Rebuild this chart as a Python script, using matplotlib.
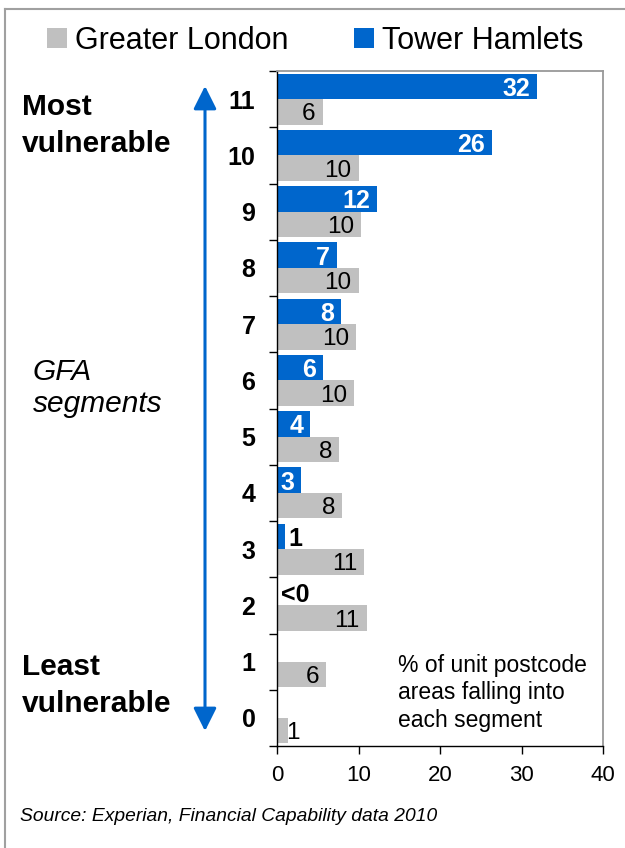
import numpy as np
import matplotlib.pyplot as plt
from matplotlib.patches import FancyArrowPatch
from matplotlib.lines import Line2D

plt.rcParams['font.family'] = ['Liberation Sans', 'DejaVu Sans']

# =====================================================
# DATA (% of unit postcode areas per GFA segment)
# =====================================================

segments = list(range(12))
tower_hamlets = [0, 0, 0.15, 1.0, 3.0, 4.1, 5.6, 7.9, 7.4, 12.3, 26.4, 31.9]
greater_london = [1.3, 6.05, 11.0, 10.7, 8.0, 7.6, 9.5, 9.7, 10.0, 10.3, 10.0, 5.6]
th_labels = ["", "", "<0", "1", "3", "4", "6", "8", "7", "12", "26", "32"]
gl_labels = ["1", "6", "11", "11", "8", "8", "10", "10", "10", "10", "10", "6"]
x_ticks = [0, 10, 20, 30, 40]
note_lines = ["% of unit postcode", "areas falling into", "each segment"]

BLUE = "#0066CC"
GREY = "#C0C0C0"

W, H = 625, 848
fig = plt.figure(figsize=(W / 100, H / 100), dpi=100)


def fx(px):
    return px / W


def fy(py):
    return 1 - py / H


# =====================================================
# BARS
# =====================================================

ax = fig.add_axes([fx(277), fy(746), fx(603) - fx(277), fy(71) - fy(746)])

y = np.arange(len(segments))
bh = 0.454

th_bars = ax.barh(y + bh / 2, tower_hamlets, height=bh, color=BLUE,
                  label="Tower Hamlets")
gl_bars = ax.barh(y - bh / 2, greater_london, height=bh, color=GREY,
                  label="Greater London")

for yi, v, lab in zip(y, greater_london, gl_labels):
    if v < 3:
        ax.annotate(lab, (0, yi - bh / 2), xytext=(6.5, 0),
                    textcoords="offset points", ha="left",
                    va="center_baseline", fontsize=17.5)
    else:
        ax.annotate(lab, (v, yi - bh / 2), xytext=(-5, 0),
                    textcoords="offset points", ha="right",
                    va="center_baseline", fontsize=17.5)

for yi, v, lab in zip(y, tower_hamlets, th_labels):
    if lab == "":
        continue
    if v < 2:
        ax.annotate(lab, (v, yi + bh / 2), xytext=(2, 0),
                    textcoords="offset points", ha="left",
                    va="center_baseline", fontsize=18, fontweight="bold",
                    color="black")
    else:
        ax.annotate(lab, (v, yi + bh / 2), xytext=(-5, 0),
                    textcoords="offset points", ha="right",
                    va="center_baseline", fontsize=18, fontweight="bold",
                    color="white")

# =====================================================
# AXES
# =====================================================

ax.set_xlim(0, 40)
ax.set_ylim(-0.5, 11.5)
ax.set_xticks(x_ticks)
ax.set_yticks(y)
ax.set_yticklabels(segments, fontweight="bold", fontsize=18)
ax.set_yticks(np.arange(-0.5, 12, 1), minor=True)

ax.tick_params(axis="y", which="major", length=0, pad=15.5)
ax.tick_params(axis="y", which="minor", length=6, width=1, color="black")
ax.tick_params(axis="x", length=6, width=1, pad=8, labelsize=16)

for s in ["left", "bottom"]:
    ax.spines[s].set_color("black")
    ax.spines[s].set_linewidth(1)
for s in ["top", "right"]:
    ax.spines[s].set_color("#999999")
    ax.spines[s].set_linewidth(1.3)

# =====================================================
# LEGEND
# =====================================================

fig.legend(handles=[gl_bars, th_bars],
           labels=["Greater London", "Tower Hamlets"],
           loc="center left", bbox_to_anchor=(fx(47), fy(41)),
           ncol=2, frameon=False, fontsize=22,
           handlelength=0.65, handleheight=0.65, handletextpad=0.26,
           columnspacing=2.15, borderpad=0, borderaxespad=0)

# =====================================================
# LEFT SIDE TEXT AND ARROW
# =====================================================

arrow = FancyArrowPatch((fx(205), fy(731)), (fx(205), fy(86)),
                        transform=fig.transFigure,
                        arrowstyle="<|-|>,head_length=1.0,head_width=0.5",
                        mutation_scale=14, color=BLUE, lw=2.2,
                        shrinkA=0, shrinkB=0)
fig.add_artist(arrow)

fig.text(fx(22), fy(115), "Most", fontsize=21.5, fontweight="bold")
fig.text(fx(22), fy(152), "vulnerable", fontsize=21.5, fontweight="bold")
fig.text(fx(22), fy(675), "Least", fontsize=21.5, fontweight="bold")
fig.text(fx(22), fy(712), "vulnerable", fontsize=21.5, fontweight="bold")

fig.text(fx(33), fy(380), "GFA", fontsize=21.5, style="italic")
fig.text(fx(33), fy(412), "segments", fontsize=21.5, style="italic")

for i, line in enumerate(note_lines):
    fig.text(fx(398), fy(672 + i * 27.5), line, fontsize=16.5)

fig.text(fx(20), fy(821), "Source: Experian, Financial Capability data 2010",
         fontsize=13.9, style="italic")

# outer frame (top and left edges only are visible)
fig.add_artist(Line2D([fx(5), 1], [fy(9), fy(9)], color="#A0A0A0", lw=1.5,
                      transform=fig.transFigure))
fig.add_artist(Line2D([fx(5), fx(5)], [0, fy(9)], color="#A0A0A0", lw=1.5,
                      transform=fig.transFigure))

fig.savefig("out.png", dpi=100)
